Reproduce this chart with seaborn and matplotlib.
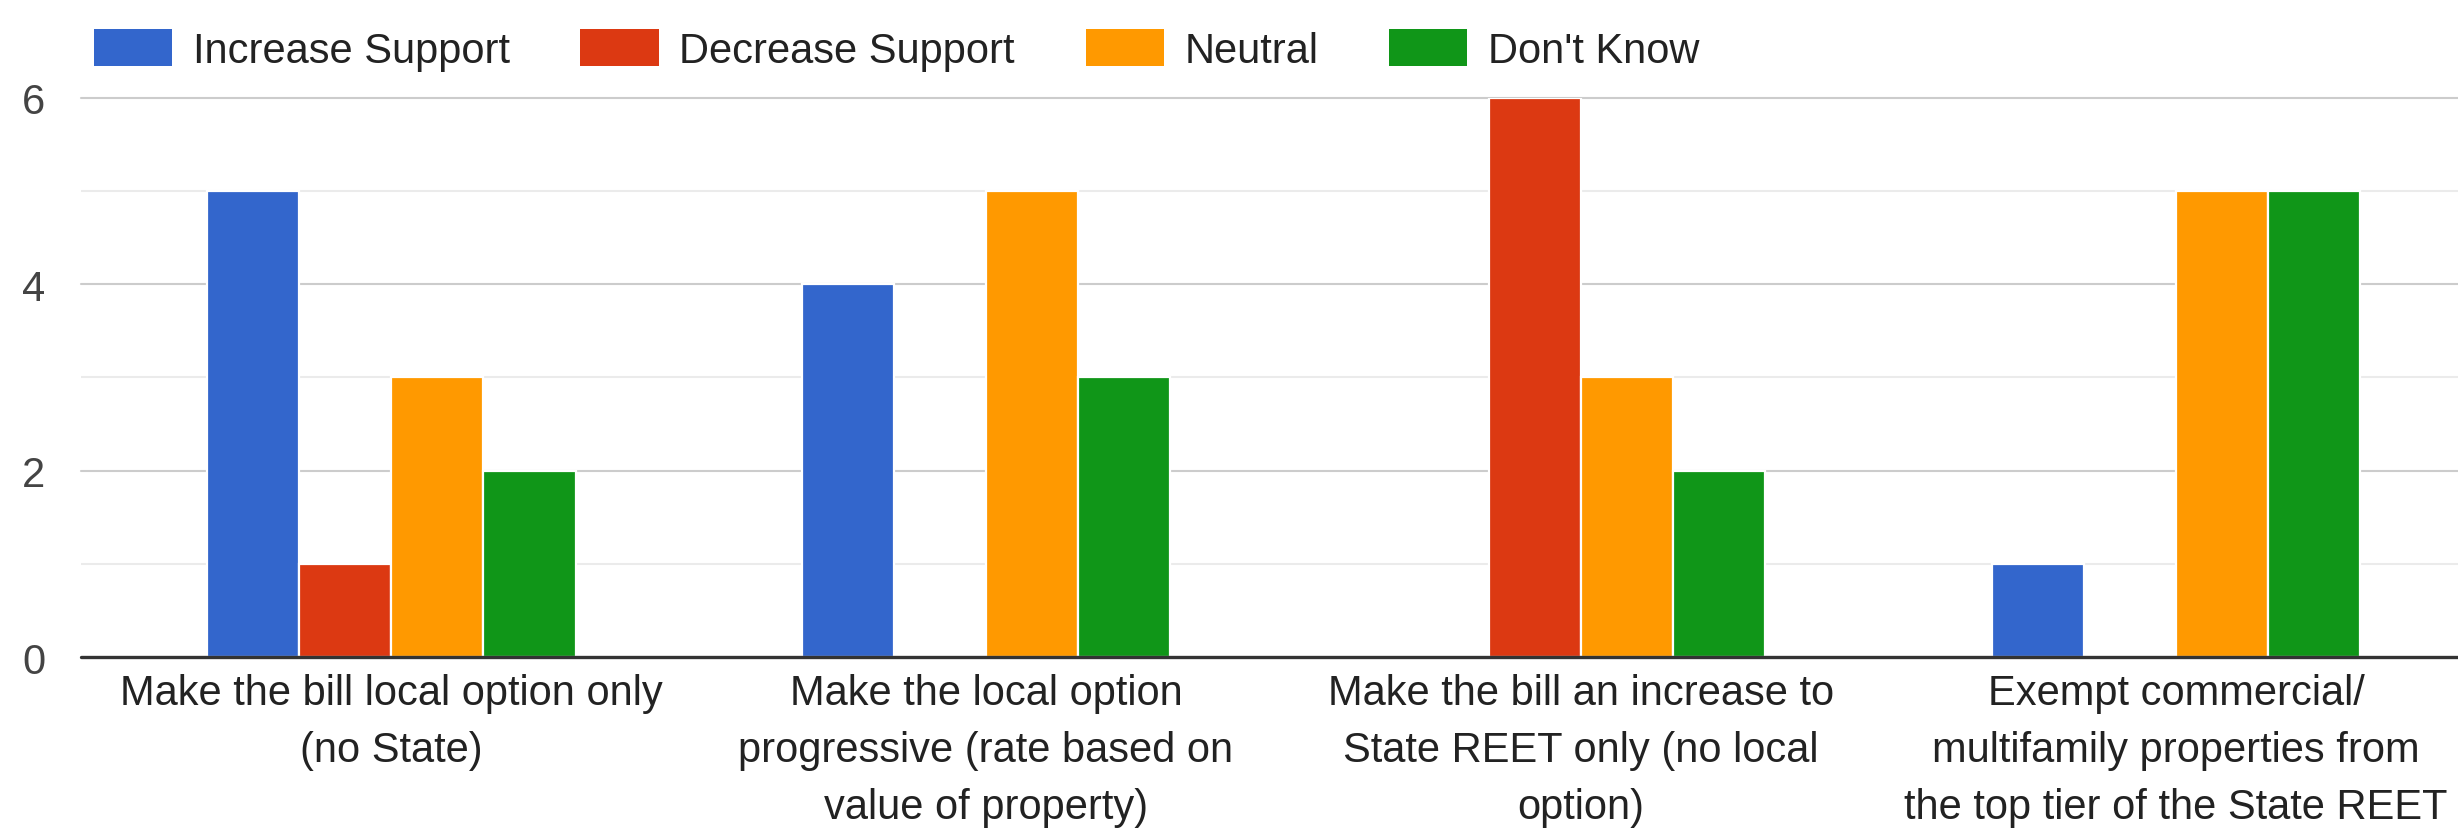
import matplotlib
matplotlib.use("Agg")
import matplotlib.pyplot as plt
import seaborn as sns
import pandas as pd
from matplotlib.patches import Patch

categories = [
    "Make the bill local option only\n(no State)",
    "Make the local option\nprogressive (rate based on\nvalue of property)",
    "Make the bill an increase to\nState REET only (no local\noption)",
    "Exempt commercial/\nmultifamily properties from\nthe top tier of the State REET",
]
series = ["Increase Support", "Decrease Support", "Neutral", "Don't Know"]
increase_support = [5, 4, 0, 1]
decrease_support = [1, 0, 6, 0]
neutral = [3, 5, 3, 5]
dont_know = [2, 3, 2, 5]
colors = ["#3366cc", "#dc3912", "#ff9900", "#109618"]
y_ticks = [0, 2, 4, 6]

values = [increase_support, decrease_support, neutral, dont_know]
rows = []
for s, vals in zip(series, values):
    for c, v in zip(categories, vals):
        rows.append({"category": c, "series": s, "value": v})
df = pd.DataFrame(rows)

sns.set_theme(style="white")
plt.rcParams["font.family"] = ["Liberation Sans", "DejaVu Sans"]

FS = 30

fig = plt.figure(figsize=(24.58, 8.29), dpi=100)
ax = fig.add_axes([0.033, 0.206, 0.967, 0.675])

sns.barplot(data=df, x="category", y="value", hue="series", hue_order=series,
            palette=colors, width=0.62, saturation=1, edgecolor="white",
            linewidth=1.6, ax=ax, legend=False, zorder=3)

ax.set_ylim(0, 6)
ax.set_xlim(-0.521, 3.474)
ax.set_xlabel("")
ax.set_ylabel("")
for sp in ax.spines.values():
    sp.set_visible(False)

# gridlines
for yv in [1, 3, 5]:
    ax.axhline(yv, color="#ebebeb", linewidth=1.5, zorder=1)
for yv in [2, 4, 6]:
    ax.axhline(yv, color="#cccccc", linewidth=1.5, zorder=1, clip_on=False)
ax.axhline(0, color="#333333", linewidth=2.4, zorder=4, clip_on=False)

ax.set_yticks(y_ticks)
ax.set_yticklabels([str(t) for t in y_ticks])
ax.tick_params(axis="y", length=0, pad=26, labelsize=FS, labelcolor="#444444")
ax.tick_params(axis="x", length=0, pad=11, labelsize=FS, labelcolor="#222222")
for lbl in ax.get_xticklabels():
    lbl.set_linespacing(1.56)
    lbl.set_horizontalalignment("center")

handles = [Patch(facecolor=c, edgecolor="none") for c in colors]
fig.legend(handles, series, loc="center left", bbox_to_anchor=(0.0382, 0.939),
           ncol=4, frameon=False, fontsize=FS, handlelength=1.88, handleheight=1.0,
           handletextpad=0.49, columnspacing=1.7, borderpad=0, borderaxespad=0,
           labelcolor="#222222")

fig.savefig("out.png", dpi=100)
